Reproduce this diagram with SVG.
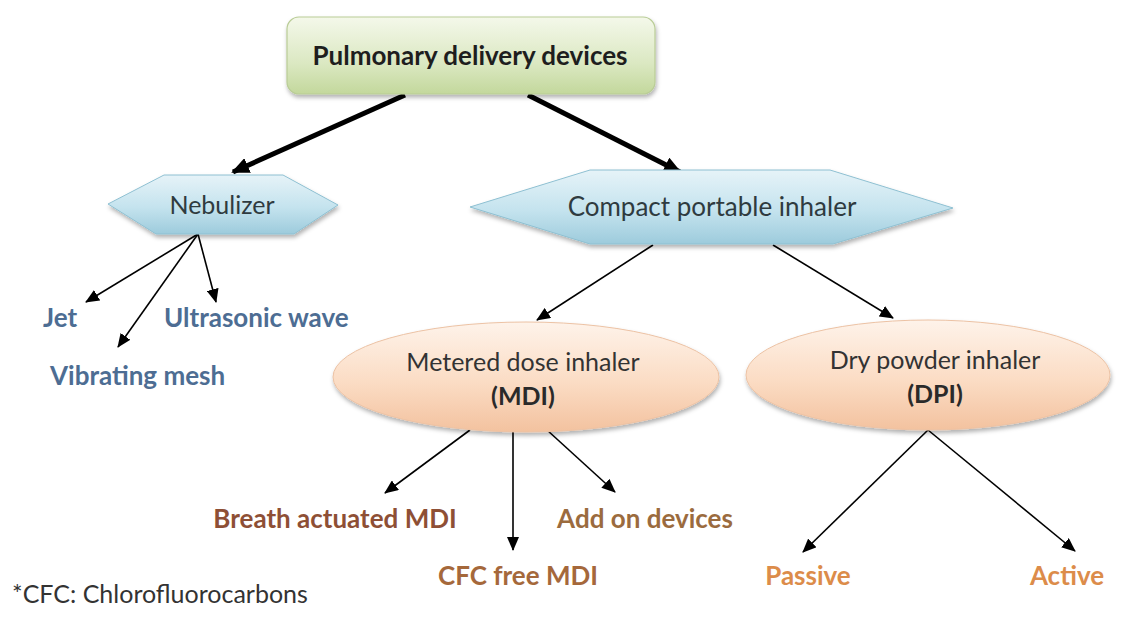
<svg xmlns="http://www.w3.org/2000/svg" width="1126" height="624" viewBox="0 0 1126 624">
<defs>
<linearGradient id="gGreen" x1="0" y1="0" x2="0" y2="1">
<stop offset="0" stop-color="#f4f8ea"/>
<stop offset="0.6" stop-color="#dbe8c2"/>
<stop offset="1" stop-color="#c3d89c"/>
</linearGradient>
<linearGradient id="gBlue" x1="0" y1="0" x2="0" y2="1">
<stop offset="0" stop-color="#e6f3f8"/>
<stop offset="0.55" stop-color="#c4e3ee"/>
<stop offset="1" stop-color="#9dcbdc"/>
</linearGradient>
<linearGradient id="gPeach" x1="0" y1="0" x2="0" y2="1">
<stop offset="0" stop-color="#fef3ea"/>
<stop offset="0.55" stop-color="#fbdcc4"/>
<stop offset="1" stop-color="#f3c29f"/>
</linearGradient>
<filter id="sh" x="-10%" y="-20%" width="120%" height="150%">
<feDropShadow dx="1" dy="3" stdDeviation="2" flood-color="#000" flood-opacity="0.3"/>
</filter>
<marker id="ahThick" markerUnits="userSpaceOnUse" markerWidth="18" markerHeight="16" refX="16" refY="8" orient="auto">
<path d="M0,0 L18,8 L0,16 z" fill="#000"/>
</marker>
<marker id="ah" markerUnits="userSpaceOnUse" markerWidth="14" markerHeight="12" refX="13" refY="6" orient="auto">
<path d="M0,0 L14,6 L0,12 z" fill="#000"/>
</marker>
</defs>
<style>
text{font-family:Lato,"Liberation Sans",sans-serif}
.node{font-size:26px;fill:#2f3b3f;text-anchor:middle}
.sub{font-size:25px;fill:#333;text-anchor:middle}
.bold{font-weight:bold}
.blue{font-size:26px;font-weight:bold;fill:#4d6d93}
.brown{font-size:26px;font-weight:bold;text-anchor:middle}
.thick{stroke:#000;stroke-width:5;fill:none;marker-end:url(#ahThick)}
.thin{stroke:#000;stroke-width:1.6;fill:none;marker-end:url(#ah)}
</style>
<rect width="1126" height="624" fill="#fff"/>

<g id="connectors">
<line class="thick" x1="405" y1="95" x2="233" y2="172"/>
<line class="thick" x1="528" y1="95" x2="680" y2="172"/>
<line class="thin" x1="198" y1="234" x2="86" y2="302"/>
<line class="thin" x1="198" y1="234" x2="118" y2="347"/>
<line class="thin" x1="198" y1="234" x2="216" y2="302"/>
<line class="thin" x1="653" y1="245" x2="537" y2="320"/>
<line class="thin" x1="773" y1="245" x2="893" y2="318"/>
<line class="thin" x1="470" y1="430" x2="385" y2="493"/>
<line class="thin" x1="513" y1="431" x2="513" y2="550"/>
<line class="thin" x1="547" y1="430" x2="615" y2="492"/>
<line class="thin" x1="928" y1="430" x2="803" y2="552"/>
<line class="thin" x1="928" y1="430" x2="1075" y2="551"/>
</g>

<g id="root">
<rect x="287" y="17" width="368" height="77" rx="12" fill="url(#gGreen)" stroke="#b9cc96" stroke-width="1.2" filter="url(#sh)"/>
<text class="node bold" x="470" y="65" style="fill:#1e1e1e">Pulmonary delivery devices</text>
</g>

<g id="nebulizer">
<polygon points="108,204 164,175 283,175 338,205 294,234 156,234" fill="url(#gBlue)" stroke="#8ec0d2" stroke-width="1" filter="url(#sh)"/>
<text class="node" x="222" y="214" style="font-size:25px">Nebulizer</text>
</g>

<g id="compact">
<polygon points="470,207 590,170 830,170 953,208 833,244 590,244" fill="url(#gBlue)" stroke="#8ec0d2" stroke-width="1" filter="url(#sh)"/>
<text class="node" x="712" y="216">Compact portable inhaler</text>
</g>

<g id="jet"><text class="blue" x="43" y="327">Jet</text></g>
<g id="vibrating"><text class="blue" x="50" y="385">Vibrating mesh</text></g>
<g id="ultrasonic"><text class="blue" x="164" y="327">Ultrasonic wave</text></g>

<g id="mdi">
<ellipse cx="526" cy="377" rx="193" ry="55" fill="url(#gPeach)" stroke="#ecc2a4" stroke-width="1" filter="url(#sh)"/>
<text class="sub" x="523" y="371">Metered dose inhaler</text>
<text class="sub bold" x="523" y="405" style="fill:#2a2a2a">(MDI)</text>
</g>

<g id="dpi">
<ellipse cx="928" cy="375" rx="182" ry="55" fill="url(#gPeach)" stroke="#ecc2a4" stroke-width="1" filter="url(#sh)"/>
<text class="sub" x="935" y="369">Dry powder inhaler</text>
<text class="sub bold" x="935" y="403" style="fill:#2a2a2a">(DPI)</text>
</g>

<g id="breath"><text class="brown" x="335" y="528" fill="#8e4f35">Breath actuated MDI</text></g>
<g id="addon"><text class="brown" x="645" y="528" fill="#9b6b3e">Add on devices</text></g>
<g id="cfcfree"><text class="brown" x="518" y="585" fill="#a5683b">CFC free MDI</text></g>
<g id="passive"><text class="brown" x="808" y="585" fill="#dc8c4a">Passive</text></g>
<g id="active"><text class="brown" x="1067" y="585" fill="#dc8c4a">Active</text></g>

<g id="footnote"><text x="12" y="603" font-size="25" fill="#333">*CFC:  Chlorofluorocarbons</text></g>
</svg>
